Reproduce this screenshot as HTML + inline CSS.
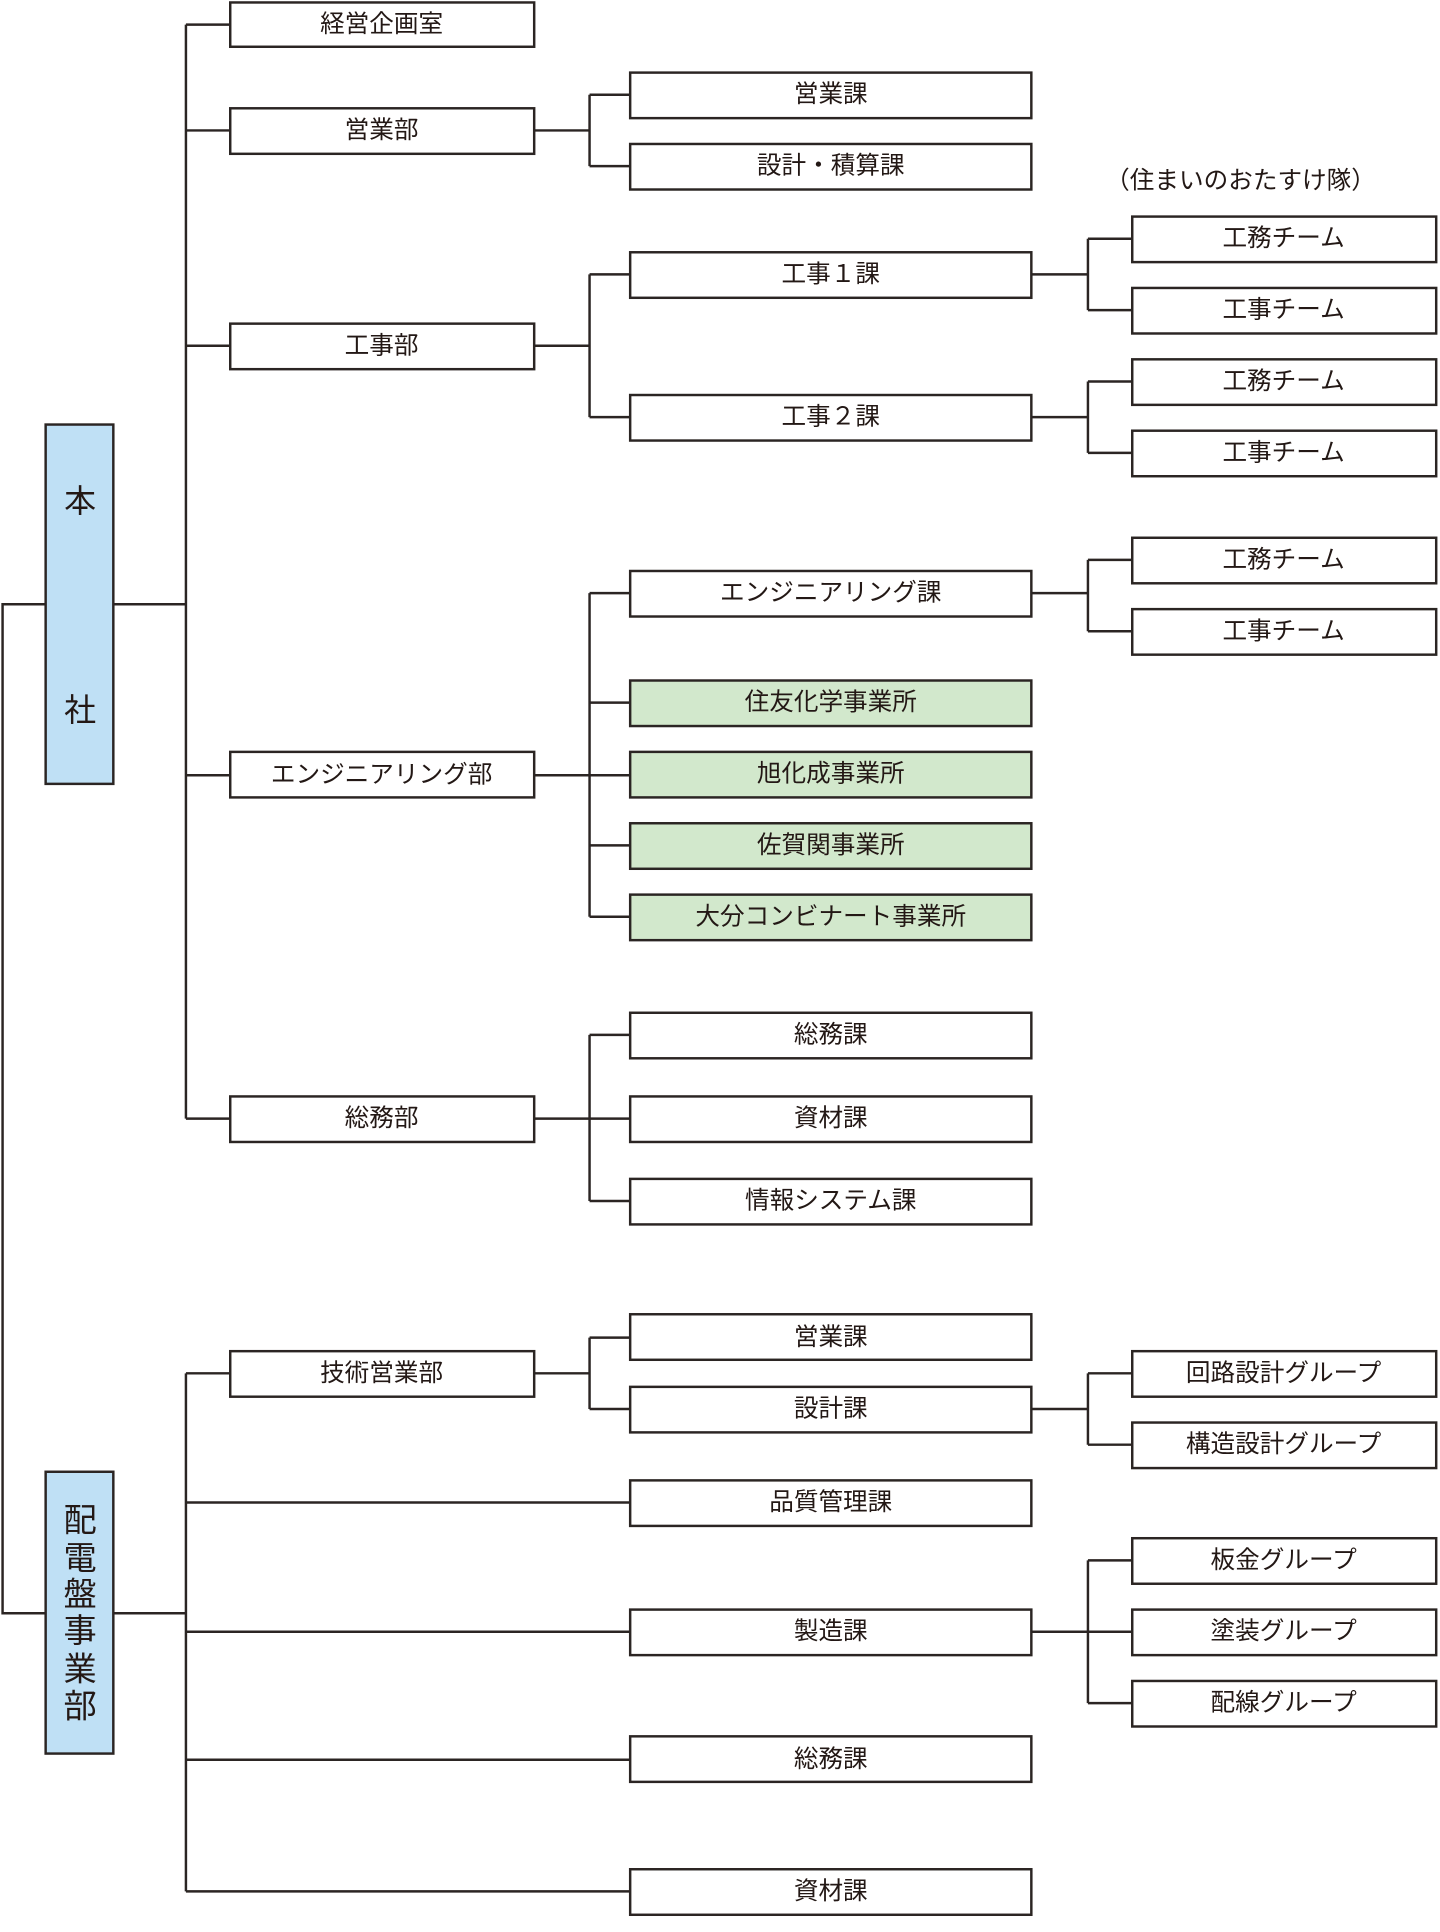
<!DOCTYPE html>
<html><head><meta charset="utf-8"><style>
html,body{margin:0;padding:0;background:#fff;}
svg{display:block;}
text{font-family:"Liberation Sans","Noto Sans CJK JP",sans-serif;fill:#231815;}
</style></head><body>
<svg width="1440" height="1932" viewBox="0 0 1170 1570" xmlns="http://www.w3.org/2000/svg">
<g fill="none" stroke="#2b2523" stroke-width="2">
<polyline points="37,491 2,491 2,1311 37,1311"/>
<line x1="92" y1="491" x2="151" y2="491"/>
<line x1="92" y1="1311" x2="151" y2="1311"/>
<line x1="151" y1="20" x2="151" y2="909"/>
<line x1="151" y1="1116" x2="151" y2="1537"/>
<line x1="151" y1="20" x2="187" y2="20"/>
<line x1="151" y1="106" x2="187" y2="106"/>
<line x1="151" y1="281" x2="187" y2="281"/>
<line x1="151" y1="630" x2="187" y2="630"/>
<line x1="151" y1="909" x2="187" y2="909"/>
<line x1="151" y1="1116" x2="187" y2="1116"/>
<line x1="151" y1="1221" x2="512" y2="1221"/>
<line x1="151" y1="1326" x2="512" y2="1326"/>
<line x1="151" y1="1430" x2="512" y2="1430"/>
<line x1="151" y1="1537" x2="512" y2="1537"/>
<line x1="434" y1="106" x2="479" y2="106"/><line x1="479" y1="77" x2="479" y2="135"/>
<line x1="479" y1="77" x2="512" y2="77"/><line x1="479" y1="135" x2="512" y2="135"/>
<line x1="434" y1="281" x2="479" y2="281"/><line x1="479" y1="223" x2="479" y2="339"/>
<line x1="479" y1="223" x2="512" y2="223"/><line x1="479" y1="339" x2="512" y2="339"/>
<line x1="434" y1="630" x2="512" y2="630"/><line x1="479" y1="482" x2="479" y2="745"/>
<line x1="479" y1="482" x2="512" y2="482"/><line x1="479" y1="571" x2="512" y2="571"/>
<line x1="479" y1="687" x2="512" y2="687"/><line x1="479" y1="745" x2="512" y2="745"/>
<line x1="434" y1="909" x2="512" y2="909"/><line x1="479" y1="841" x2="479" y2="976"/>
<line x1="479" y1="841" x2="512" y2="841"/><line x1="479" y1="976" x2="512" y2="976"/>
<line x1="434" y1="1116" x2="479" y2="1116"/><line x1="479" y1="1087" x2="479" y2="1145"/>
<line x1="479" y1="1087" x2="512" y2="1087"/><line x1="479" y1="1145" x2="512" y2="1145"/>
<line x1="838" y1="223" x2="884" y2="223"/><line x1="884" y1="194" x2="884" y2="252"/>
<line x1="884" y1="194" x2="920" y2="194"/><line x1="884" y1="252" x2="920" y2="252"/>
<line x1="838" y1="339" x2="884" y2="339"/><line x1="884" y1="310" x2="884" y2="368"/>
<line x1="884" y1="310" x2="920" y2="310"/><line x1="884" y1="368" x2="920" y2="368"/>
<line x1="838" y1="482" x2="884" y2="482"/><line x1="884" y1="455" x2="884" y2="513"/>
<line x1="884" y1="455" x2="920" y2="455"/><line x1="884" y1="513" x2="920" y2="513"/>
<line x1="838" y1="1145" x2="884" y2="1145"/><line x1="884" y1="1116" x2="884" y2="1174"/>
<line x1="884" y1="1116" x2="920" y2="1116"/><line x1="884" y1="1174" x2="920" y2="1174"/>
<line x1="838" y1="1326" x2="920" y2="1326"/><line x1="884" y1="1268" x2="884" y2="1384"/>
<line x1="884" y1="1268" x2="920" y2="1268"/><line x1="884" y1="1384" x2="920" y2="1384"/>
</g>
<g stroke="#2b2523" stroke-width="2">
<rect x="37" y="345" width="55" height="292" fill="#bfe0f5"/>
<rect x="37" y="1196" width="55" height="229" fill="#bfe0f5"/>
<g fill="#fff">
<rect x="187" y="2" width="247" height="36"/>
<rect x="187" y="88" width="247" height="37"/>
<rect x="187" y="263" width="247" height="37"/>
<rect x="187" y="611" width="247" height="37"/>
<rect x="187" y="891" width="247" height="37"/>
<rect x="187" y="1098" width="247" height="37"/>
<rect x="512" y="59" width="326" height="37"/>
<rect x="512" y="117" width="326" height="37"/>
<rect x="512" y="205" width="326" height="37"/>
<rect x="512" y="321" width="326" height="37"/>
<rect x="512" y="464" width="326" height="37"/>
<rect x="512" y="823" width="326" height="37"/>
<rect x="512" y="891" width="326" height="37"/>
<rect x="512" y="958" width="326" height="37"/>
<rect x="512" y="1068" width="326" height="37"/>
<rect x="512" y="1127" width="326" height="37"/>
<rect x="512" y="1203" width="326" height="37"/>
<rect x="512" y="1308" width="326" height="37"/>
<rect x="512" y="1411" width="326" height="37"/>
<rect x="512" y="1519" width="326" height="37"/>
<rect x="920" y="176" width="247" height="37"/>
<rect x="920" y="234" width="247" height="37"/>
<rect x="920" y="292" width="247" height="37"/>
<rect x="920" y="350" width="247" height="37"/>
<rect x="920" y="437" width="247" height="37"/>
<rect x="920" y="495" width="247" height="37"/>
<rect x="920" y="1098" width="247" height="37"/>
<rect x="920" y="1156" width="247" height="37"/>
<rect x="920" y="1250" width="247" height="37"/>
<rect x="920" y="1308" width="247" height="37"/>
<rect x="920" y="1366" width="247" height="37"/>
</g>
<g fill="#d2e8cc">
<rect x="512" y="553" width="326" height="37"/>
<rect x="512" y="611" width="326" height="37"/>
<rect x="512" y="669" width="326" height="37"/>
<rect x="512" y="727" width="326" height="37"/>
</g>
</g>
<g font-size="26" text-anchor="middle" dominant-baseline="central">
<text x="65" y="407">本</text><text x="65" y="577">社</text>
</g>
<g font-size="27" text-anchor="middle" dominant-baseline="central">
<text x="65" y="1236">配</text><text x="65" y="1267">電</text><text x="65" y="1296">盤</text>
<text x="65" y="1326">事</text><text x="65" y="1357">業</text><text x="65" y="1387">部</text>
</g>
<g font-size="20" text-anchor="middle" dominant-baseline="central">
<text x="310" y="20">経営企画室</text>
<text x="310" y="106">営業部</text>
<text x="310" y="281">工事部</text>
<text x="310" y="630">エンジニアリング部</text>
<text x="310" y="909">総務部</text>
<text x="310" y="1116">技術営業部</text>
<text x="675" y="77">営業課</text>
<text x="675" y="135">設計・積算課</text>
<text x="675" y="223">工事１課</text>
<text x="675" y="339">工事２課</text>
<text x="675" y="482">エンジニアリング課</text>
<text x="675" y="571">住友化学事業所</text>
<text x="675" y="629">旭化成事業所</text>
<text x="675" y="687">佐賀関事業所</text>
<text x="675" y="745">大分コンビナート事業所</text>
<text x="675" y="841">総務課</text>
<text x="675" y="909">資材課</text>
<text x="675" y="976">情報システム課</text>
<text x="675" y="1087">営業課</text>
<text x="675" y="1145">設計課</text>
<text x="675" y="1221">品質管理課</text>
<text x="675" y="1326">製造課</text>
<text x="675" y="1430">総務課</text>
<text x="675" y="1537">資材課</text>
<text x="1008" y="147">（住まいのおたすけ隊）</text>
<text x="1043" y="194">工務チーム</text>
<text x="1043" y="252">工事チーム</text>
<text x="1043" y="310">工務チーム</text>
<text x="1043" y="368">工事チーム</text>
<text x="1043" y="455">工務チーム</text>
<text x="1043" y="513">工事チーム</text>
<text x="1043" y="1116">回路設計グループ</text>
<text x="1043" y="1174">構造設計グループ</text>
<text x="1043" y="1268">板金グループ</text>
<text x="1043" y="1326">塗装グループ</text>
<text x="1043" y="1384">配線グループ</text>
</g>
</svg>
</body></html>
